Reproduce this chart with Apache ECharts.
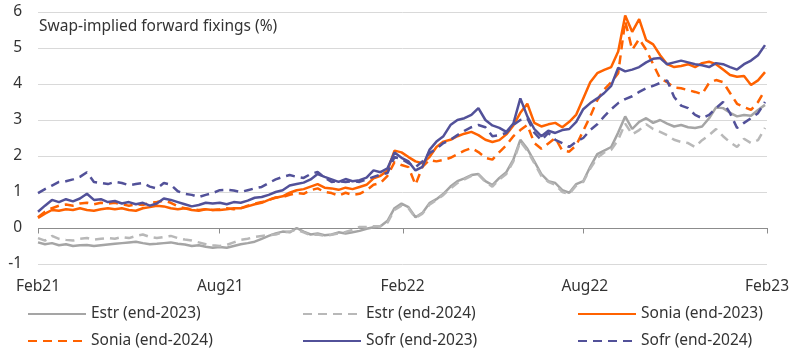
<!DOCTYPE html>
<html>
<head>
<meta charset="utf-8">
<script src="https://cdn.jsdelivr.net/npm/echarts@6/dist/echarts.min.js"></script>
<style>
html,body{margin:0;padding:0;background:#fff;}
#chart{width:800px;height:360px;}
</style>
</head>
<body>
<div id="chart"></div>
<script>
// Weekly observations starting 2021-02-01 (x = days since start)
const startDate = '2021-02-01';
const tickDates = ['2021-02-01', '2021-08-01', '2022-02-01', '2022-08-01', '2023-02-01'];
const tickLabels = ['Feb21', 'Aug21', 'Feb22', 'Aug22', 'Feb23'];
const seriesNames = ['Estr (end-2023)', 'Estr (end-2024)', 'Sonia (end-2023)', 'Sonia (end-2024)', 'Sofr (end-2023)', 'Sofr (end-2024)'];

const estr23 = [-0.40,-0.45,-0.42,-0.48,-0.45,-0.50,-0.48,-0.47,-0.50,-0.48,
  -0.46,-0.44,-0.42,-0.40,-0.38,-0.42,-0.45,-0.44,-0.42,-0.40,
  -0.44,-0.46,-0.50,-0.48,-0.52,-0.55,-0.53,-0.55,-0.50,-0.45,
  -0.42,-0.38,-0.30,-0.22,-0.15,-0.10,-0.12,0.00,-0.10,-0.18,
  -0.15,-0.20,-0.18,-0.12,-0.15,-0.12,-0.08,-0.02,0.02,0.05,
  0.20,0.55,0.68,0.58,0.30,0.42,0.69,0.80,0.95,1.15,
  1.30,1.38,1.47,1.50,1.30,1.19,1.39,1.55,1.90,2.45,
  2.20,1.85,1.50,1.30,1.25,1.05,0.98,1.22,1.30,1.70,
  2.05,2.15,2.25,2.65,3.10,2.75,2.95,3.05,2.92,3.00,
  2.90,2.82,2.86,2.80,2.78,2.82,3.05,3.35,3.33,3.20,
  3.10,3.14,3.12,3.28,3.42];
const estr24 = [-0.28,-0.35,-0.22,-0.30,-0.33,-0.35,-0.30,-0.28,-0.32,-0.30,
  -0.28,-0.30,-0.25,-0.28,-0.22,-0.18,-0.25,-0.28,-0.25,-0.22,
  -0.28,-0.32,-0.35,-0.40,-0.45,-0.48,-0.50,-0.47,-0.40,-0.33,
  -0.30,-0.25,-0.22,-0.20,-0.18,-0.12,-0.10,-0.05,-0.12,-0.20,
  -0.18,-0.22,-0.19,-0.15,-0.11,-0.05,0.03,0.03,0.05,0.05,
  0.15,0.50,0.62,0.55,0.28,0.40,0.65,0.78,0.92,1.10,
  1.25,1.35,1.45,1.48,1.28,1.15,1.35,1.50,1.85,2.40,
  2.15,1.80,1.45,1.28,1.20,1.00,0.95,1.18,1.28,1.65,
  1.95,2.10,2.17,2.45,2.90,2.60,2.72,2.88,2.75,2.67,
  2.58,2.45,2.39,2.36,2.25,2.44,2.58,2.75,2.55,2.38,
  2.25,2.48,2.36,2.44,2.78];
const sonia23 = [0.28,0.40,0.50,0.48,0.52,0.50,0.55,0.50,0.48,0.52,
  0.55,0.52,0.55,0.50,0.48,0.55,0.58,0.62,0.60,0.55,
  0.52,0.55,0.50,0.48,0.52,0.50,0.50,0.52,0.55,0.55,
  0.60,0.66,0.70,0.78,0.84,0.88,0.98,1.05,1.08,1.15,
  1.22,1.12,1.10,1.06,1.12,1.08,1.14,1.20,1.38,1.45,
  1.60,2.15,2.10,1.97,1.85,1.80,1.97,2.25,2.40,2.45,
  2.55,2.62,2.67,2.58,2.45,2.39,2.44,2.60,2.85,3.20,
  3.45,2.92,2.82,2.88,2.92,2.80,2.95,3.15,3.60,4.05,
  4.30,4.39,4.47,4.90,5.90,5.45,5.80,5.22,5.10,4.80,
  4.55,4.47,4.50,4.55,4.47,4.58,4.62,4.55,4.40,4.25,
  4.20,4.22,3.97,4.10,4.33];
const sonia24 = [0.30,0.45,0.55,0.62,0.65,0.62,0.68,0.70,0.66,0.70,
  0.68,0.70,0.66,0.62,0.66,0.64,0.70,0.72,0.76,0.70,
  0.60,0.55,0.52,0.50,0.52,0.50,0.52,0.55,0.52,0.55,
  0.62,0.68,0.72,0.78,0.85,0.86,0.92,0.97,0.95,1.05,
  1.10,1.00,0.97,0.90,0.98,0.92,0.95,1.05,1.20,1.25,
  1.45,1.83,1.75,1.69,1.20,1.70,1.89,1.85,1.89,1.95,
  2.05,2.15,2.22,2.11,1.95,1.90,2.11,2.30,2.55,2.72,
  2.86,2.36,2.20,2.35,2.50,2.15,2.12,2.30,2.70,3.10,
  3.55,3.85,4.05,4.30,5.75,4.95,5.25,4.95,4.55,4.15,
  4.05,3.90,3.88,3.83,3.78,3.72,4.03,4.11,4.05,3.75,
  3.45,3.36,3.28,3.50,3.83];
const sofr23 = [0.45,0.62,0.78,0.72,0.80,0.74,0.82,0.95,0.78,0.80,
  0.72,0.75,0.68,0.72,0.66,0.70,0.62,0.68,0.82,0.78,
  0.72,0.66,0.60,0.64,0.70,0.68,0.70,0.66,0.72,0.70,
  0.76,0.84,0.86,0.92,1.00,1.05,1.18,1.22,1.26,1.35,
  1.50,1.42,1.35,1.28,1.36,1.30,1.33,1.40,1.60,1.55,
  1.66,2.10,1.95,1.85,1.60,1.70,2.17,2.40,2.55,2.86,
  3.00,3.05,3.14,3.33,3.00,2.85,2.78,2.67,2.90,3.60,
  3.10,2.75,2.55,2.70,2.64,2.72,2.75,2.95,3.30,3.47,
  3.60,3.75,3.95,4.45,4.35,4.40,4.47,4.60,4.70,4.72,
  4.55,4.60,4.65,4.60,4.55,4.52,4.47,4.58,4.55,4.47,
  4.40,4.55,4.65,4.80,5.08];
const sofr24 = [0.97,1.08,1.18,1.28,1.30,1.35,1.42,1.55,1.28,1.25,
  1.22,1.28,1.25,1.19,1.22,1.25,1.15,1.10,1.25,1.20,
  1.02,0.95,0.92,0.86,0.92,0.97,1.05,1.06,1.04,1.00,
  1.05,1.10,1.14,1.25,1.35,1.42,1.47,1.42,1.39,1.50,
  1.56,1.40,1.28,1.30,1.28,1.30,1.28,1.35,1.42,1.48,
  1.53,1.97,1.92,1.80,1.69,1.85,2.08,2.20,2.36,2.45,
  2.58,2.70,2.80,2.86,2.80,2.55,2.58,2.64,2.86,3.00,
  3.05,2.65,2.44,2.64,2.45,2.36,2.25,2.40,2.50,2.72,
  2.88,3.10,3.30,3.47,3.58,3.66,3.78,3.88,3.95,4.03,
  4.10,3.64,3.40,3.33,3.14,3.05,3.14,3.33,3.50,3.19,
  2.78,2.92,3.05,3.19,3.50];

const DAY = 86400000;
const t0 = Date.parse(startDate + 'T00:00:00Z');
const tickDays = tickDates.map(d => (Date.parse(d + 'T00:00:00Z') - t0) / DAY);
const xMax = tickDays[tickDays.length - 1];      // 730 days
const xInterval = xMax / (tickDays.length - 1);  // half-year label spacing
function pairs(arr) { return arr.map((v, i) => [i * 7, v]); }

const GREY = '#A5A5A5', GREY2 = '#B8B8B8', ORANGE = '#FF6200', PURPLE = '#525199';
const AXIS = '#8C8C8C';
const styles = [
  {color: GREY, type: 'solid'},
  {color: GREY2, type: [9, 6]},
  {color: ORANGE, type: 'solid'},
  {color: ORANGE, type: [9, 6]},
  {color: PURPLE, type: 'solid'},
  {color: PURPLE, type: [9, 6]}
];
const dataSets = [estr23, estr24, sonia23, sonia24, sofr23, sofr24];

const FONT = 'Noto Sans';
const FS = 15.5;
const chart = echarts.init(document.getElementById('chart'), null, {renderer: 'canvas'});

const legendPos = [[27, 306], [302, 306], [577, 306], [27, 333], [302, 333], [577, 333]];

function labelFor(v) {
  let best = 0;
  for (let k = 1; k < tickDays.length; k++) {
    if (Math.abs(tickDays[k] - v) < Math.abs(tickDays[best] - v)) best = k;
  }
  return tickLabels[best];
}

// Axis line on the zero value with downward ticks at the label dates (custom series)
function renderAxisItem(params, api) {
  const d = api.value(0);
  const p = api.coord([d, 0]);
  const y = Math.round(p[1]) + 0.5;
  const x = Math.round(p[0]) + 0.5;
  const children = [{
    type: 'line',
    shape: {x1: x, y1: y, x2: x, y2: y + 5},
    style: {stroke: AXIS, lineWidth: 1}
  }];
  if (params.dataIndex === 0) {
    const pEnd = api.coord([xMax, 0]);
    children.push({
      type: 'line',
      shape: {x1: Math.round(p[0]), y1: y, x2: Math.round(pEnd[0]) + 1, y2: y},
      style: {stroke: AXIS, lineWidth: 1}
    });
  }
  return {type: 'group', children: children};
}

const lineSeries = dataSets.map((d, i) => ({
  name: seriesNames[i],
  type: 'line',
  data: pairs(d),
  symbol: 'none',
  showSymbol: false,
  smooth: false,
  z: 3,
  lineStyle: {color: styles[i].color, width: 2.5, type: styles[i].type},
  itemStyle: {color: styles[i].color},
  emphasis: {disabled: true}
}));

const axisSeries = {
  name: '__zeroAxis',
  type: 'custom',
  silent: true,
  z: 2,
  clip: false,
  renderItem: renderAxisItem,
  data: tickDays.map(d => [d, 0]),
  encode: {x: 0, y: 1},
  tooltip: {show: false}
};

chart.setOption({
  animation: false,
  backgroundColor: '#fff',
  textStyle: {fontFamily: FONT},
  title: {
    text: 'Swap-implied forward fixings (%)',
    left: 39, top: 19,
    padding: 0,
    textStyle: {fontSize: FS, fontWeight: 'normal', color: '#333', fontFamily: FONT}
  },
  grid: {left: 38, right: 33, top: 12, bottom: 96, containLabel: false},
  xAxis: {
    type: 'value', min: 0, max: xMax, interval: xInterval,
    axisLine: {show: false},
    axisTick: {show: false},
    axisLabel: {
      margin: 15,
      fontSize: FS, color: '#333', fontFamily: FONT,
      formatter: labelFor
    },
    splitLine: {show: false}
  },
  yAxis: {
    type: 'value', min: -1, max: 6, interval: 1,
    axisLine: {show: false}, axisTick: {show: false},
    axisLabel: {margin: 16, fontSize: FS, color: '#333', fontFamily: FONT},
    splitLine: {lineStyle: {color: '#D9D9D9', width: 1}}
  },
  legend: legendPos.map((p, i) => ({
    data: [seriesNames[i]],
    left: p[0], top: p[1],
    padding: 0,
    itemWidth: 58, itemHeight: 12,
    itemGap: 0,
    itemStyle: {opacity: 0},
    textStyle: {fontSize: FS, color: '#333', fontFamily: FONT},
    selectedMode: false
  })),
  series: [axisSeries].concat(lineSeries)
});
</script>
</body>
</html>
